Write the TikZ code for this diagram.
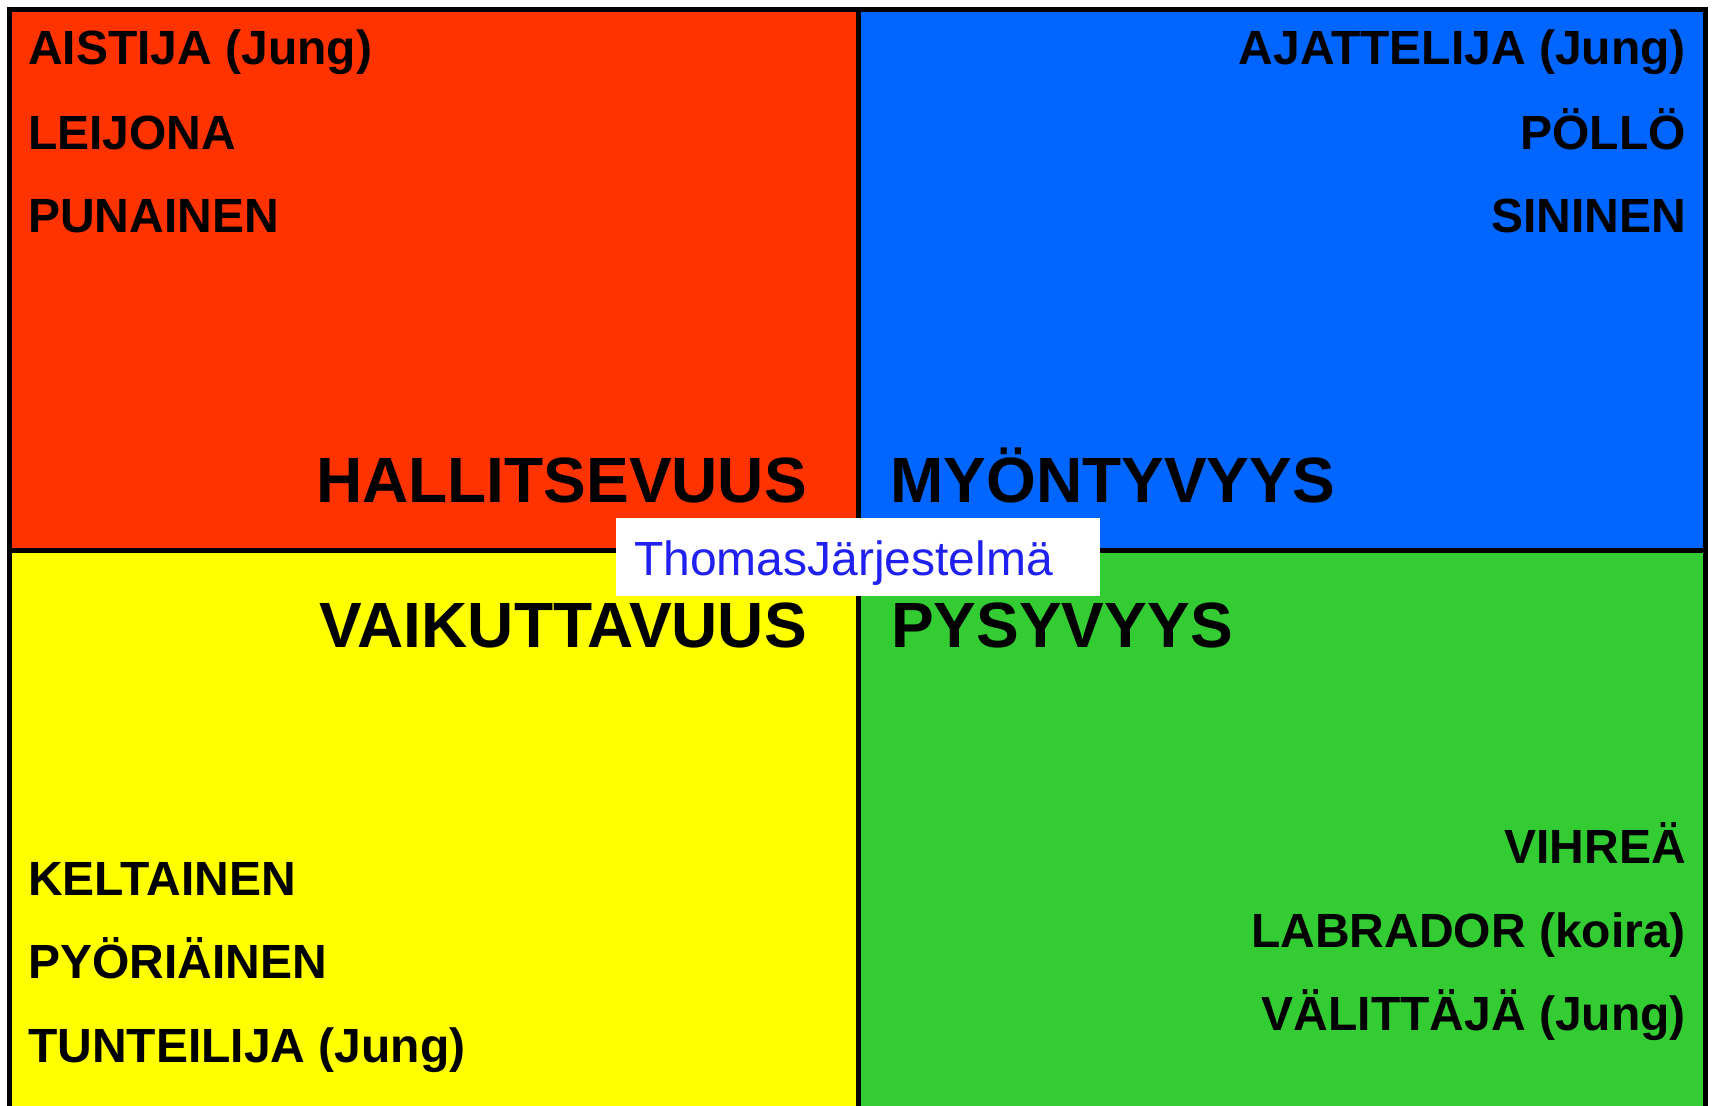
\documentclass[tikz,border=0pt]{standalone}
\usepackage{fontspec}
\setmainfont{Liberation Sans}
\definecolor{qred}{HTML}{FF3300}
\definecolor{qblue}{HTML}{0066FF}
\definecolor{qyellow}{HTML}{FFFF00}
\definecolor{qgreen}{HTML}{33CC33}
\definecolor{tblue}{HTML}{2020F0}
\begin{document}
\begin{tikzpicture}[x=1pt,y=1pt,
  small/.style={inner sep=0pt, font=\fontsize{48}{58}\selectfont\bfseries},
  big/.style={inner sep=0pt, font=\fontsize{64}{77}\selectfont\bfseries},
  border/.style={line width=5pt, draw=black}]
\useasboundingbox (0,0) rectangle (1712,-1105);
\clip (0,0) rectangle (1712,-1105);
% quadrants
\fill[qred] (9.5,-9.5) rectangle (858,-550);
\fill[qblue] (858,-9.5) rectangle (1705,-550);
\fill[qyellow] (9.5,-550) rectangle (858,-1130);
\fill[qgreen] (858,-550) rectangle (1705,-1130);
\coordinate (tl) at (9.5,-9.5);
\coordinate (tr) at (1705,-9.5);
\coordinate (bl) at (9.5,-1130);
\coordinate (br) at (1705,-1130);
\coordinate (mt) at (858,-9.5);
\coordinate (mb) at (858,-1130);
\coordinate (ml) at (9.5,-550);
\coordinate (mr) at (1705,-550);
\draw[border] (bl) -- (tl) -- (tr) -- (br);
\draw[border] (mt) -- (mb);
\draw[border] (ml) -- (mr);
% top-left
\node[small, anchor=base west] (a1) at (28,-65) {AISTIJA (Jung)};
\node[small, anchor=base west] (a2) at (28,-149) {LEIJONA};
\node[small, anchor=base west] (a3) at (28,-232) {PUNAINEN};
% top-right
\node[small, anchor=base east] (b1) at (1686,-65) {AJATTELIJA (Jung)};
\node[small, anchor=base east] (b2) at (1686,-149) {PÖLLÖ};
\node[small, anchor=base east] (b3) at (1686,-232) {SININEN};
% bottom-left
\node[small, anchor=base west] (c1) at (28,-895) {KELTAINEN};
\node[small, anchor=base west] (c2) at (28,-978) {PYÖRIÄINEN};
\node[small, anchor=base west] (c3) at (28,-1062) {TUNTEILIJA (Jung)};
% bottom-right
\node[small, anchor=base east] (d1) at (1686,-863) {VIHREÄ};
\node[small, anchor=base east] (d2) at (1686,-947) {LABRADOR (koira)};
\node[small, anchor=base east] (d3) at (1686,-1030) {VÄLITTÄJÄ (Jung)};
% big labels
\node[big, anchor=base east] (h1) at (807,-502) {HALLITSEVUUS};
\node[big, anchor=base west] (h2) at (890,-502) {MYÖNTYVYYS};
\node[big, anchor=base east] (h3) at (807,-647) {VAIKUTTAVUUS};
\node[big, anchor=base west] (h4) at (891,-647) {PYSYVYYS};
% title box
\node[fill=white, inner sep=0pt, minimum width=484pt, minimum height=78pt, anchor=north west] (box) at (616,-518) {};
\node[inner sep=0pt, anchor=base west, text=tblue, font=\fontsize{48}{58}\selectfont] (title) at (634,-575) {ThomasJärjestelmä};
\end{tikzpicture}
\end{document}
